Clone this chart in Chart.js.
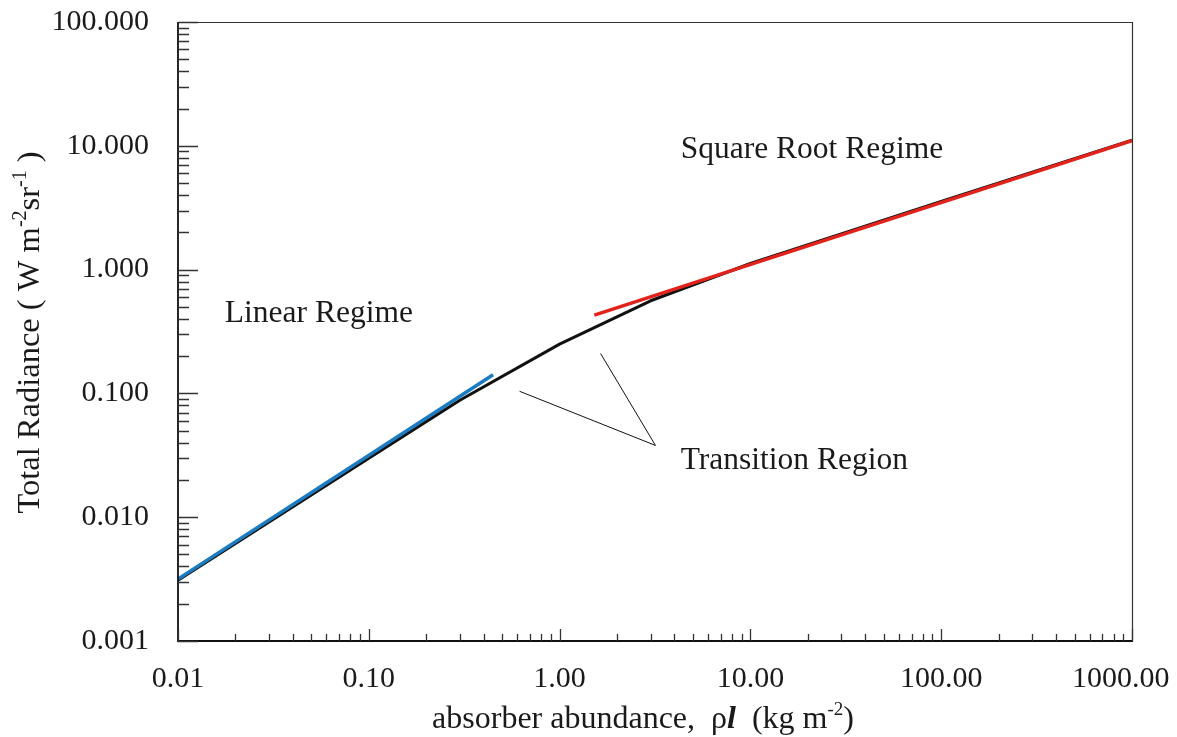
<!DOCTYPE html>
<html>
<head>
<meta charset="utf-8">
<title>Total Radiance vs Absorber Abundance</title>
<script src="https://cdn.jsdelivr.net/npm/chart.js@4.4.1/dist/chart.umd.min.js"></script>
<style>
  html, body { margin: 0; padding: 0; background: #fff; }
  #wrap { width: 1177px; height: 737px; position: relative; }
  canvas { display: block; }
</style>
</head>
<body>
<div id="wrap"><canvas id="radianceChart" width="1177" height="737"></canvas></div>
<script>
// curve of growth, total radiance vs absorber amount (log-log)
const curveX = [0.01, 0.1, 0.3, 1.0, 3.0, 10, 100, 1000];
const curveY = [0.0031, 0.030, 0.088, 0.25, 0.56, 1.12, 3.55, 11.1];

// weak-line limit (linear) and strong-line limit (square root)
const linearX = [0.01, 0.448];
const linearY = [0.00316, 0.1416];
const sqrtX = [1.52, 1000];
const sqrtY = [0.429, 11.0];

// leader lines for the transition label
const leaderAX = [0.617, 3.18];
const leaderAY = [0.104, 0.038];
const leaderBX = [1.64, 3.18];
const leaderBY = [0.21, 0.038];

const xTickValues = [0.01, 0.1, 1, 10, 100, 1000];
// last label padded so it stays inside the canvas
const xTickLabels = ['0.01', '0.10', '1.00', '10.00', '100.00', '1000.00   '];
const yTickValues = [0.001, 0.01, 0.1, 1, 10, 100];
const yTickLabels = ['0.001', '0.010', '0.100', '1.000', '10.000', '100.000'];

const regionLabels = ['Linear Regime', 'Square Root Regime', 'Transition Region'];
const regionX = [0.0176, 4.31, 4.31];
const regionY = [0.374, 8.0, 0.0244];

const SERIF = '"Liberation Serif", "Times New Roman", serif';

function toPoints(xs, ys) {
    return xs.map((x, i) => ({ x: x, y: ys[i] }));
}

// draws mixed normal/superscript text starting at (x, y) on the baseline
function drawRich(ctx, parts, x, y, size) {
    let cx = x;
    parts.forEach(p => {
        const fs = p.sup ? Math.round(size * 0.6) : size;
        const style = p.style || '';
        ctx.font = `${style} ${fs}px ${SERIF}`;
        ctx.fillText(p.t, cx, p.sup ? y - size * 0.4 : y);
        cx += ctx.measureText(p.t).width;
    });
    return cx - x;
}

function richWidth(ctx, parts, size) {
    let w = 0;
    parts.forEach(p => {
        const fs = p.sup ? Math.round(size * 0.6) : size;
        ctx.font = `${p.style || ''} ${fs}px ${SERIF}`;
        w += ctx.measureText(p.t).width;
    });
    return w;
}

function decadeTicks(min, max) {
    const out = [];
    for (let e = Math.round(Math.log10(min)); e < Math.round(Math.log10(max)) + 1; e++) {
        const d = Math.pow(10, e);
        out.push({ v: d, major: true });
        for (let k = 2; k <= 9; k++) {
            if (k * d < max) out.push({ v: k * d, major: false });
        }
    }
    return out.filter(t => t.v >= min * 0.999 && t.v <= max * 1.001);
}

const framePlugin = {
    id: 'frame',
    afterDatasetsDraw(chart) {
        const { ctx, chartArea: a, scales } = chart;
        const xs = scales.x, ys = scales.y;
        ctx.save();

        // frame: heavy left/bottom axes, light top/right
        ctx.strokeStyle = '#333';
        ctx.lineWidth = 1.2;
        ctx.beginPath();
        ctx.moveTo(a.left, a.top + 0.5);
        ctx.lineTo(a.right + 0.5, a.top + 0.5);
        ctx.lineTo(a.right + 0.5, a.bottom);
        ctx.stroke();

        ctx.strokeStyle = '#111';
        ctx.lineWidth = 1.8;
        ctx.beginPath();
        ctx.moveTo(a.left, a.top);
        ctx.lineTo(a.left, a.bottom);
        ctx.lineTo(a.right + 1, a.bottom);
        ctx.stroke();

        // inward tick marks
        ctx.strokeStyle = '#333';
        ctx.lineWidth = 1.3;
        ctx.beginPath();
        decadeTicks(xs.min, xs.max).forEach(t => {
            const px = Math.round(xs.getPixelForValue(t.v)) + 0.5;
            ctx.moveTo(px, a.bottom);
            ctx.lineTo(px, a.bottom - (t.major ? 12 : 7));
        });
        decadeTicks(ys.min, ys.max).forEach(t => {
            const py = Math.round(ys.getPixelForValue(t.v)) + 0.5;
            ctx.moveTo(a.left, py);
            ctx.lineTo(a.left + (t.major ? 20 : 11), py);
        });
        ctx.stroke();

        // region labels
        ctx.fillStyle = '#1a1a1a';
        ctx.font = `31.5px ${SERIF}`;
        ctx.textAlign = 'left';
        ctx.textBaseline = 'alphabetic';
        regionLabels.forEach((txt, i) => {
            ctx.fillText(txt, xs.getPixelForValue(regionX[i]), ys.getPixelForValue(regionY[i]));
        });

        // x axis title
        const xParts = [
            { t: 'absorber abundance,  \u03C1' },
            { t: 'l', style: 'italic bold' },
            { t: '  (kg m' },
            { t: '-2', sup: true },
            { t: ')' }
        ];
        const xw = richWidth(ctx, xParts, 32);
        drawRich(ctx, xParts, (a.left + a.right) / 2 - xw / 2 - 12, 728, 32);

        // y axis title, rotated
        const yParts = [
            { t: 'Total Radiance ( W m' },
            { t: '-2', sup: true },
            { t: 'sr' },
            { t: '-1', sup: true },
            { t: ' )' }
        ];
        const yw = richWidth(ctx, yParts, 32.5);
        ctx.translate(39, (a.top + a.bottom) / 2 + 1);
        ctx.rotate(-Math.PI / 2);
        drawRich(ctx, yParts, -yw / 2, 0, 32.5);

        ctx.restore();
    }
};

const ctx = document.getElementById('radianceChart').getContext('2d');

const chart = new Chart(ctx, {
    type: 'line',
    data: {
        datasets: [
            {
                label: 'Linear',
                data: toPoints(linearX, linearY),
                borderColor: '#1b7cc1',
                borderWidth: 3.5,
                order: 1
            },
            {
                label: 'Square Root',
                data: toPoints(sqrtX, sqrtY),
                borderColor: '#e2231c',
                borderWidth: 3.5,
                order: 1
            },
            {
                label: 'Curve of Growth',
                data: toPoints(curveX, curveY),
                borderColor: '#111',
                borderWidth: 3,
                order: 2
            },
            {
                label: 'leaderA',
                data: toPoints(leaderAX, leaderAY),
                borderColor: '#111',
                borderWidth: 1,
                order: 3
            },
            {
                label: 'leaderB',
                data: toPoints(leaderBX, leaderBY),
                borderColor: '#111',
                borderWidth: 1,
                order: 3
            }
        ]
    },
    options: {
        responsive: false,
        animation: false,
        devicePixelRatio: 1,
        elements: {
            point: { radius: 0 },
            line: { tension: 0, borderJoinStyle: 'round', borderCapStyle: 'butt' }
        },
        layout: {
            padding: { top: 22, right: 45, left: 0, bottom: 0 }
        },
        plugins: {
            legend: { display: false },
            tooltip: { enabled: false }
        },
        scales: {
            x: {
                type: 'logarithmic',
                position: 'bottom',
                min: 0.01,
                max: 1000,
                grid: { display: false, drawTicks: false },
                border: { display: false },
                afterBuildTicks: s => { s.ticks = xTickValues.map(v => ({ value: v })); },
                afterFit: s => {
                    s.height = 96;
                    s.paddingLeft = 0;
                    s.paddingRight = 0;
                },
                ticks: {
                    autoSkip: false,
                    maxRotation: 0,
                    padding: 20,
                    color: '#1a1a1a',
                    font: { family: SERIF, size: 30 },
                    callback: (v) => {
                        const i = xTickValues.findIndex(t => Math.abs(t - v) < t * 1e-6);
                        return i >= 0 ? xTickLabels[i] : '';
                    }
                }
            },
            y: {
                type: 'logarithmic',
                position: 'left',
                min: 0.001,
                max: 100,
                grid: { display: false, drawTicks: false },
                border: { display: false },
                afterBuildTicks: s => { s.ticks = yTickValues.map(v => ({ value: v })); },
                afterFit: s => {
                    s.width = 178;
                    s.paddingTop = 0;
                    s.paddingBottom = 0;
                },
                ticks: {
                    autoSkip: false,
                    padding: 29,
                    color: '#1a1a1a',
                    font: { family: SERIF, size: 30 },
                    callback: (v) => {
                        const i = yTickValues.findIndex(t => Math.abs(t - v) < t * 1e-6);
                        return i >= 0 ? yTickLabels[i] : '';
                    }
                }
            }
        }
    },
    plugins: [framePlugin]
});
</script>
</body>
</html>
